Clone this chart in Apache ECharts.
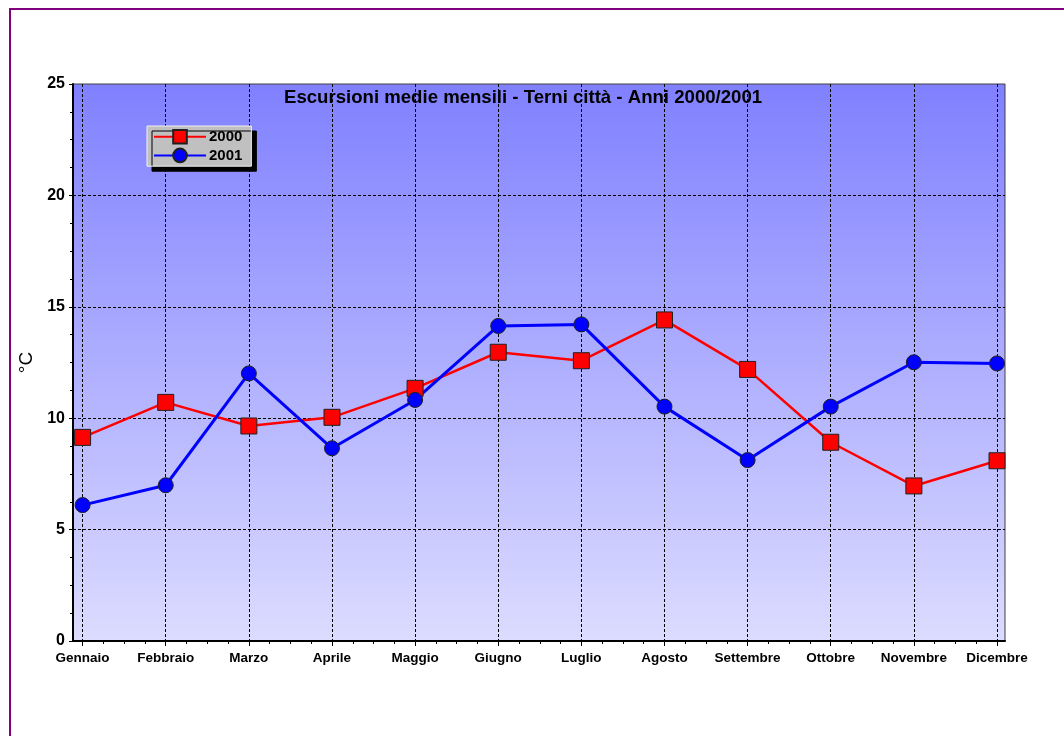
<!DOCTYPE html>
<html>
<head>
<meta charset="utf-8">
<script src="https://cdn.jsdelivr.net/npm/echarts@6/dist/echarts.min.js"></script>
<style>
html, body { margin: 0; padding: 0; background: #fff; }
#chart { width: 1064px; height: 736px; }
</style>
</head>
<body>
<div id="chart"></div>
<script>
// mesi e valori (escursione media mensile, gradi C)
var mesi = ['Gennaio', 'Febbraio', 'Marzo', 'Aprile', 'Maggio', 'Giugno',
            'Luglio', 'Agosto', 'Settembre', 'Ottobre', 'Novembre', 'Dicembre'];
var anno2000 = [9.14, 10.71, 9.65, 10.04, 11.34, 12.96, 12.58, 14.41, 12.19, 8.92, 6.96, 8.09];
var anno2001 = [6.10, 6.99, 12.01, 8.65, 10.82, 14.14, 14.21, 10.52, 8.12, 10.52, 12.51, 12.46];
var nomiSerie = ['2000', '2001'];

var chart = echarts.init(document.getElementById('chart'));

function punti(valori) {
    return valori.map(function (v, i) { return [i, v]; });
}

var tratteggio = { color: '#000', width: 1, type: [3, 2] };

var option = {
    animation: false,
    backgroundColor: '#fff',
    title: {
        text: 'Escursioni medie mensili - Terni città - Anni 2000/2001',
        left: 284,
        top: 88,
        padding: 0,
        textStyle: { fontFamily: 'Liberation Sans, Arial', fontSize: 18.6, fontWeight: 'bold', color: '#000' }
    },
    legend: {
        orient: 'vertical',
        left: 147,
        top: 126,
        padding: [3, 9, 3, 6],
        itemWidth: 52,
        itemHeight: 17,
        itemGap: 3,
        backgroundColor: '#C0C0C0',
        borderColor: '#F0F0F0',
        borderWidth: 1,
        shadowColor: '#000',
        shadowBlur: 0,
        shadowOffsetX: 5,
        shadowOffsetY: 5,
        textStyle: { fontFamily: 'Liberation Sans, Arial', fontSize: 15, fontWeight: 'bold', color: '#000', padding: [0, 0, 0, -2] },
        data: nomiSerie
    },
    graphic: [{
        type: 'rect',
        silent: true,
        shape: { x: 10, y: 9, width: 1100, height: 800 },
        style: { fill: 'none', stroke: '#800080', lineWidth: 2 }
    }],
    grid: [
        // cornice e sfondo
        {
            left: 73, top: 84, width: 932, height: 557,
            show: true,
            borderColor: '#404040',
            borderWidth: 1,
            backgroundColor: new echarts.graphic.LinearGradient(0, 0, 0, 1, [
                { offset: 0, color: '#8080FF' },
                { offset: 1, color: '#DCDCFF' }
            ])
        },
        // area dati
        { left: 82.6, top: 84, width: 914.4, height: 557 }
    ],
    xAxis: [
        {
            gridIndex: 0, type: 'value', min: 0, max: 1, position: 'bottom',
            axisLine: { show: true, lineStyle: { color: '#000', width: 2 } },
            axisTick: { show: false }, axisLabel: { show: false }, splitLine: { show: false }
        },
        {
            gridIndex: 1, type: 'value', min: 0, max: 11, interval: 1, position: 'bottom',
            axisLine: { show: false },
            axisTick: { show: true, length: 5, lineStyle: { color: '#000' } },
            minorTick: { show: true, splitNumber: 4, length: 3, lineStyle: { color: '#000' } },
            axisLabel: {
                show: true, margin: 10, showMinLabel: true, showMaxLabel: true,
                fontFamily: 'Liberation Sans, Arial', fontSize: 13.5, fontWeight: 'bold', color: '#000',
                formatter: function (v) { return mesi[v] || ''; }
            },
            splitLine: { show: true, lineStyle: tratteggio }
        }
    ],
    yAxis: [
        {
            gridIndex: 0, type: 'value', min: 0, max: 25, interval: 5,
            name: '°C', nameLocation: 'middle', nameGap: 31, nameRotate: 90,
            nameTextStyle: { fontFamily: 'Liberation Sans, Arial', fontSize: 19, color: '#000' },
            axisLine: { show: true, lineStyle: { color: '#000', width: 2 } },
            axisTick: { show: true, length: 4, lineStyle: { color: '#000' } },
            minorTick: { show: true, splitNumber: 4, length: 3, lineStyle: { color: '#000' } },
            axisLabel: { margin: 8, fontFamily: 'Liberation Sans, Arial', fontSize: 16, fontWeight: 'bold', color: '#000' },
            splitLine: { show: true, showMinLine: false, showMaxLine: false, lineStyle: tratteggio }
        },
        {
            gridIndex: 1, type: 'value', min: 0, max: 25,
            axisLine: { show: false }, axisTick: { show: false }, axisLabel: { show: false }, splitLine: { show: false }
        }
    ],
    series: [
        {
            name: nomiSerie[0], type: 'line', xAxisIndex: 1, yAxisIndex: 1,
            data: punti(anno2000),
            symbol: 'rect', symbolSize: 16,
            lineStyle: { color: '#FF0000', width: 2.5 },
            itemStyle: { color: '#FF0000', borderColor: '#202020', borderWidth: 1 }
        },
        {
            name: nomiSerie[1], type: 'line', xAxisIndex: 1, yAxisIndex: 1,
            data: punti(anno2001),
            symbol: 'circle', symbolSize: 15,
            lineStyle: { color: '#0000FF', width: 3 },
            itemStyle: { color: '#0000FF', borderColor: '#202020', borderWidth: 1 }
        }
    ]
};

chart.setOption(option);
</script>
</body>
</html>
